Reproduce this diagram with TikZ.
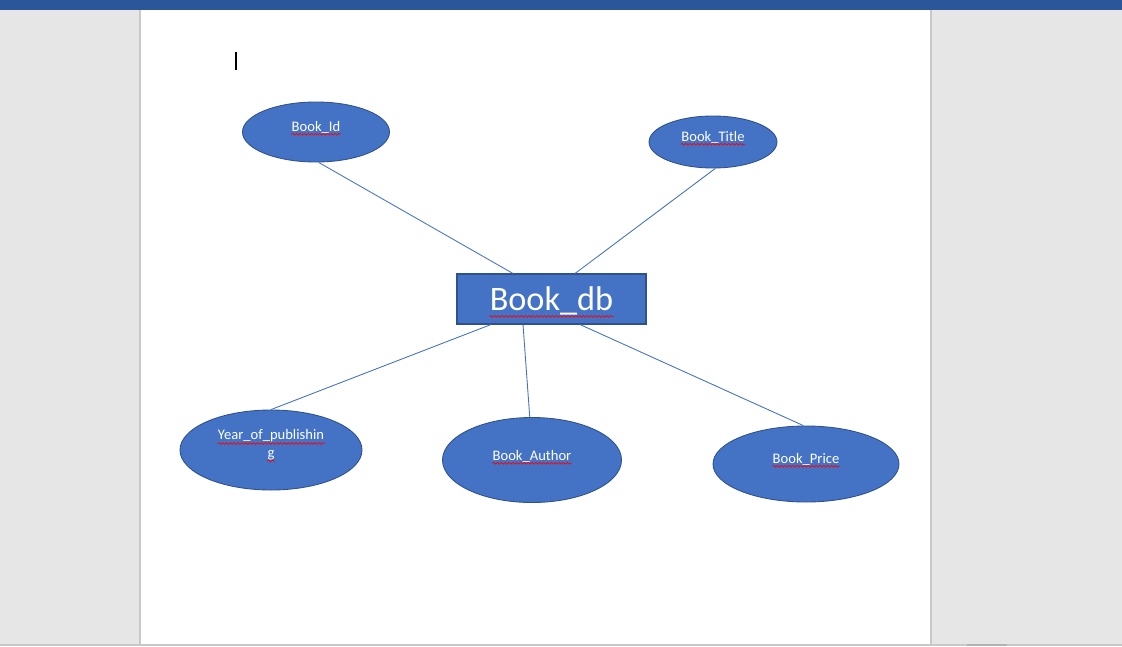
\documentclass[tikz,border=0pt]{standalone}
\usepackage{fontspec}
\setmainfont{Carlito}
\usepackage{tikz}
\usetikzlibrary{positioning, shapes.geometric, decorations.pathmorphing}
\definecolor{wdblue}{HTML}{4472C4}
\definecolor{wdedge}{HTML}{2F528F}
\definecolor{wdbar}{HTML}{2B579A}
\definecolor{wdgrey}{HTML}{E6E6E6}
\definecolor{wdrule}{HTML}{C8C8C8}

\begin{document}
\begin{tikzpicture}[x=0.02cm, y=-0.02cm,
	attr/.style={ellipse, draw=wdedge, fill=wdblue, line width=0.5pt, inner sep=0pt},
	entity/.style={rectangle, draw=wdedge, fill=wdblue, line width=0.6pt, minimum width=189*0.02cm, minimum height=50*0.02cm, inner sep=0pt},
	lbl/.style={text=white, inner sep=0pt, font=\fontsize{8.3pt}{10pt}\selectfont},
	biglbl/.style={text=white, inner sep=0pt, font=\fontsize{19.5pt}{23pt}\selectfont},
	link/.style={draw=wdblue, line width=0.5pt},
	spellerr/.style={draw=red, line width=0.4pt, decorate, decoration={snake, amplitude=0.5pt, segment length=2.2pt}}]
		% window and page
		\useasboundingbox (0,0) rectangle (1122,646);
		\fill[wdgrey] (0,0) rectangle (1122,646);
		\fill[white] (140,10) rectangle (931,644);
		\draw[wdrule, line width=0.6pt] (140,10) -- (140,644);
		\draw[wdrule, line width=0.6pt] (931,10) -- (931,644);
		\fill[wdrule] (0,644) rectangle (1122,646);
		\fill[gray!60] (967,644) rectangle (1007,646);
		\fill[wdbar] (0,0) rectangle (1122,10);
		\draw[black, line width=0.6pt] (236,52) -- (236,70);
		
		% attribute ellipses
		\node[attr, minimum width=147*0.02cm, minimum height=60*0.02cm] (bookid) at (316,132) {};
		\node[attr, minimum width=128*0.02cm, minimum height=52*0.02cm] (booktitle) at (713,142) {};
		\node[attr, minimum width=182*0.02cm, minimum height=80*0.02cm] (year) at (271,450) {};
		\node[attr, minimum width=179*0.02cm, minimum height=85*0.02cm] (author) at (532,460) {};
		\node[attr, minimum width=186*0.02cm, minimum height=76*0.02cm] (price) at (806,464) {};
		
		% entity box
		\node[entity] (bookdb) at (551.5,299) {};
		
		% labels
		\node[lbl] (bookidtxt) at (316,127) {Book\_Id};
		\node[lbl] (booktitletxt) at (713,137) {Book\_Title};
		\node[lbl] (yeartxt) at (271,436) {Year\_of\_publishin};
		\node[lbl] (yeartxtb) at (271,455) {g};
		\node[lbl] (authortxt) at (532,456) {Book\_Author};
		\node[lbl] (pricetxt) at (806,459) {Book\_Price};
		\node[biglbl] (bookdbtxt) at (551.5,301) {Book\_db};
		
		% spelling marks
		\foreach \t in {bookidtxt, booktitletxt, yeartxt, yeartxtb, authortxt, pricetxt, bookdbtxt} {
			\draw[spellerr] ([yshift=-0.5pt]\t.south west) -- ([yshift=-0.5pt]\t.south east);
		}
		
		% connections
		\draw[link] (bookid.-85) -- (bookdb.north -| 513,0);
		\draw[link] (booktitle.-85) -- (bookdb.north -| 575,0);
		\draw[link] (bookdb.south -| 491,0) -- (year.north);
		\draw[link] (bookdb.south -| 523,0) -- (author.93);
		\draw[link] (bookdb.south -| 580,0) -- (price.94);
\end{tikzpicture}
\end{document}
